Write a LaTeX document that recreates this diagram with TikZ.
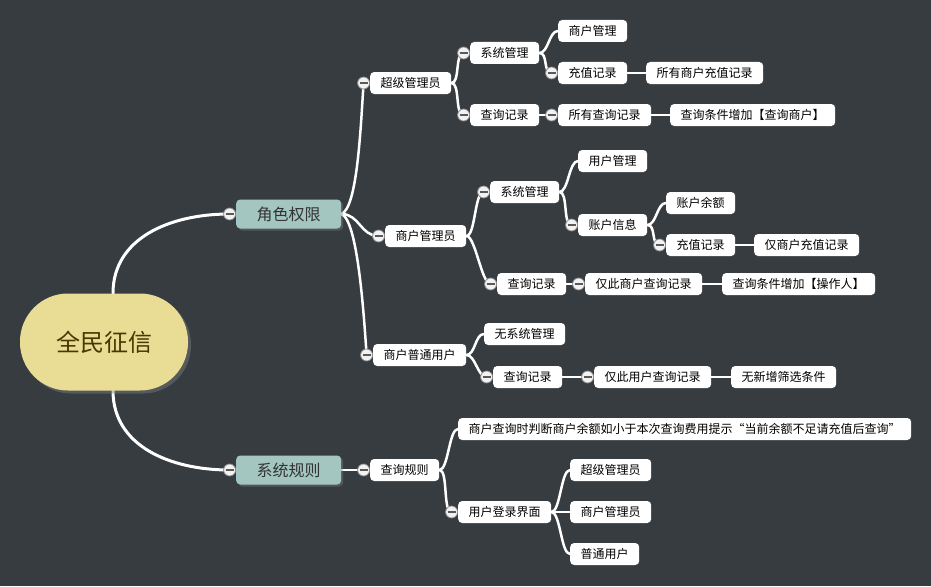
\documentclass[tikz,border=0pt]{standalone}
\usepackage{fontspec}
\newfontfamily\cjk{Noto Sans CJK SC}
\usetikzlibrary{positioning, shadows}
\definecolor{bgcol}{HTML}{373C40}
\definecolor{rootcol}{HTML}{E9DD96}
\definecolor{roottext}{HTML}{4A3600}
\definecolor{rolecol}{HTML}{A3C6C0}
\definecolor{foldcol}{HTML}{8C8C8C}
\pgfdeclarelayer{bg}
\pgfdeclarelayer{edges}
\pgfsetlayers{bg,edges,main}

\begin{document}
\begin{tikzpicture}[x=1pt, y=-1pt,
    topic/.style={fill=rootcol, text=roottext, font=\cjk\fontsize{24}{24}\selectfont, minimum width=168, minimum height=97, rounded corners=48, drop shadow={shadow xshift=3pt, shadow yshift=-3pt, opacity=0.45}},
    role/.style={fill=rolecol, text=black!80, font=\cjk\fontsize{16}{16}\selectfont, anchor=west, minimum width=105, minimum height=29, inner sep=0, rounded corners=4, drop shadow={shadow xshift=2pt, shadow yshift=-2pt, opacity=0.4}},
    item/.style={fill=white, text=black, font=\cjk\fontsize{12}{12}\selectfont, anchor=west, inner xsep=10.5, inner ysep=0, minimum height=22, rounded corners=4},
    fold/.style={circle, fill=white!95!black, draw=foldcol, line width=0.8, minimum size=12, inner sep=0,
        path picture={\draw[black!65, line width=1.3] ([xshift=-4pt]path picture bounding box.center) -- ([xshift=4pt]path picture bounding box.center);}},
    link/.style={draw=white, line width=2.5, line cap=round}]

    \useasboundingbox (0,0) rectangle (931,586);
    \begin{pgfonlayer}{bg}
        \fill[bgcol] (0,0) rectangle (931,586);
    \end{pgfonlayer}

    \node[topic] (root) at (104,342) {全民征信};
    \node[role] (role) at (236,214) {角色权限};
    \node[role] (rules) at (236,470) {系统规则};

    % super admin
    \node[item] (super) at (370,83) {超级管理员};
    \node[item] (ssys) at (470,53) {系统管理};
    \node[item] (susr) at (558,31) {商户管理};
    \node[item] (schg) at (558,73) {充值记录};
    \node[item] (schgall) at (646,73) {所有商户充值记录};
    \node[item] (sqry) at (470,115) {查询记录};
    \node[item] (sqryall) at (558,115) {所有查询记录};
    \node[item] (scond) at (670,115) {查询条件增加【查询商户】};

    % merchant admin
    \node[item] (merch) at (385,236) {商户管理员};
    \node[item] (msys) at (490,192) {系统管理};
    \node[item] (musr) at (578,161) {用户管理};
    \node[item] (macc) at (578,225) {账户信息};
    \node[item] (mbal) at (666,203) {账户余额};
    \node[item] (mchg) at (666,245) {充值记录};
    \node[item] (mchgown) at (754,245) {仅商户充值记录};
    \node[item] (mqry) at (497,284) {查询记录};
    \node[item] (mqryown) at (585,284) {仅此商户查询记录};
    \node[item] (mcond) at (722,284) {查询条件增加【操作人】};

    % merchant user
    \node[item] (user) at (373,355) {商户普通用户};
    \node[item] (unosys) at (484,334) {无系统管理};
    \node[item] (uqry) at (493,377) {查询记录};
    \node[item] (uqryown) at (594,377) {仅此用户查询记录};
    \node[item] (unone) at (731,377) {无新增筛选条件};

    % rules
    \node[item] (rule) at (370,470) {查询规则};
    \node[item] (rtip) at (458,429) {商户查询时判断商户余额如小于本次查询费用提示“当前余额不足请充值后查询”};
    \node[item] (rlogin) at (458,512) {用户登录界面};
    \node[item] (rsuper) at (570,470) {超级管理员};
    \node[item] (rmerch) at (570,512) {商户管理员};
    \node[item] (ruser) at (570,554) {普通用户};

    \foreach \n in {role, rules, super, ssys, schg, sqry, sqryall, merch, msys, macc, mchg, mqry, mqryown, user, uqry, uqryown, rule, rlogin} {
        \node[fold, left=0pt of \n] (f-\n) {};
    };

    \begin{pgfonlayer}{edges}
        \draw[link, line width=3] ([xshift=9pt]root.north) .. controls +(0,-55) and +(-60,0) .. (f-role.center);
        \draw[link, line width=3] ([xshift=9pt]root.south) .. controls +(0,55) and +(-60,0) .. (f-rules.center);
        \draw[link] (role.east) .. controls +(16,-6) and +(-3,45) .. (f-super.center);
        \draw[link] (role.east) .. controls +(18,0) and +(-18,0) .. (f-merch.center);
        \draw[link] (role.east) .. controls +(16,6) and +(-3,-45) .. (f-user.center);
        \draw[link] (rules.east) -- (f-rule.center);
        \foreach \a/\b in {super/f-ssys.center, super/f-sqry.center, ssys/susr.west, ssys/f-schg.center, schg/schgall.west,
                sqry/f-sqryall.center, sqryall/scond.west,
                merch/f-msys.center, merch/f-mqry.center, msys/musr.west, msys/f-macc.center, macc/mbal.west, macc/f-mchg.center,
                mchg/mchgown.west, mqry/f-mqryown.center, mqryown/mcond.west,
                user/unosys.west, user/f-uqry.center, uqry/f-uqryown.center, uqryown/unone.west,
                rule/rtip.west, rule/f-rlogin.center, rlogin/rsuper.west, rlogin/rmerch.west, rlogin/ruser.west} {
            \draw[link] (\a.east) .. controls +(9,0) and +(-9,0) .. (\b);
        };
    \end{pgfonlayer}
\end{tikzpicture}
\end{document}
